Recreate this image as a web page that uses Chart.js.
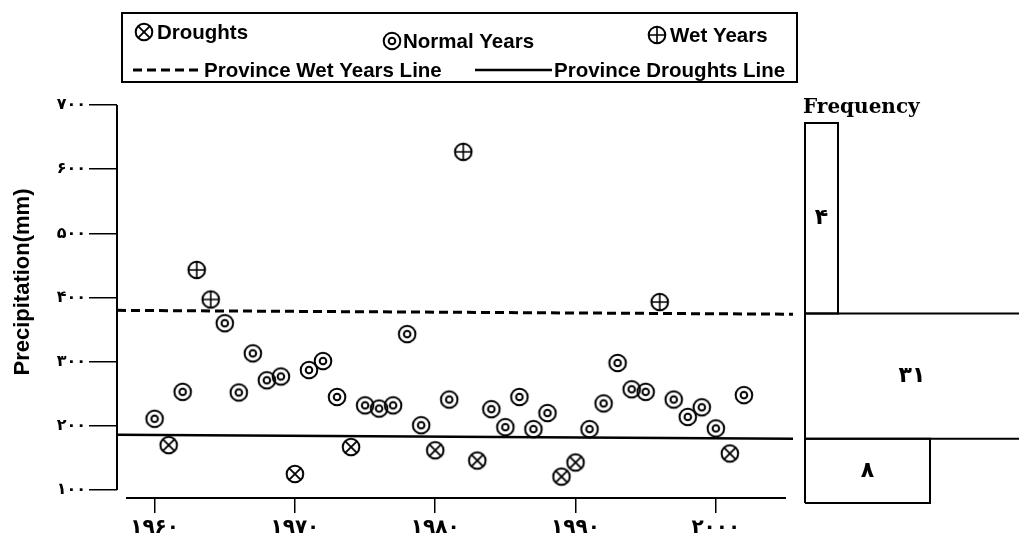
<!DOCTYPE html>
<html>
<head>
<meta charset="utf-8">
<script src="https://cdn.jsdelivr.net/npm/chart.js@4.4.1/dist/chart.umd.min.js"></script>
<style>
  html, body { margin: 0; padding: 0; background: #fff; }
  #wrap { position: relative; width: 1019px; height: 542px; overflow: hidden; }
  #main { position: absolute; left: 0; top: 0; }
  #freq { position: absolute; left: 790px; top: 0; }
</style>
</head>
<body>
<div id="wrap">
  <canvas id="main" width="805" height="542"></canvas>
  <canvas id="freq" width="229" height="542"></canvas>
</div>
<script>
"use strict";

// annual precipitation (mm), 1960-2002
const years = [
  1960, 1961, 1962, 1963, 1964, 1965, 1966, 1967, 1968, 1969,
  1970, 1971, 1972, 1973, 1974, 1975, 1976, 1977, 1978, 1979,
  1980, 1981, 1982, 1983, 1984, 1985, 1986, 1987, 1988, 1989,
  1990, 1991, 1992, 1993, 1994, 1995, 1996, 1997, 1998, 1999,
  2000, 2001, 2002
];
const precipitation = [
  211, 170, 253, 443, 397, 360, 252, 313, 271, 277,
  125, 287, 301, 245, 167, 232, 227, 232, 343, 201,
  162, 241, 627, 146, 226, 198, 245, 195, 220, 121,
  143, 195, 235, 298, 257, 253, 393, 241, 214, 229,
  196, 157, 248
];

// province threshold lines (value at left end, value at right end)
const wetLineEnds = [380, 374];
const droughtLineEnds = [186, 180];
const wetThreshold = 377;
const droughtThreshold = 183;

// frequency panel: class bounds (mm) and counts
const classBounds = [80, 180, 375, 672];
const classCounts = [8, 31, 4];
const classCountLabels = ["۸", "۳۱", "۴"];

const xTickValues = [1960, 1970, 1980, 1990, 2000];
const xTickLabels = ["۱۹۶۰", "۱۹۷۰", "۱۹۸۰", "۱۹۹۰", "۲۰۰۰"];
const yTickValues = [100, 200, 300, 400, 500, 600, 700];
const yTickLabels = ["۱۰۰", "۲۰۰", "۳۰۰", "۴۰۰", "۵۰۰", "۶۰۰", "۷۰۰"];

const X_MIN = 1957.32, X_MAX = 2005.5;
const Y_MIN = 87.6, Y_MAX = 700;
const FX_MIN = 2.565, FX_MAX = 11.87;

function marker(kind) {
  const c = document.createElement("canvas");
  c.width = c.height = 22;
  const g = c.getContext("2d");
  g.strokeStyle = "#000";
  g.lineWidth = 2;
  g.beginPath();
  g.arc(11, 11, 8.3, 0, Math.PI * 2);
  g.stroke();
  if (kind === "normal") {
    g.beginPath();
    g.arc(11, 11, 3.3, 0, Math.PI * 2);
    g.stroke();
  } else if (kind === "wet") {
    g.lineWidth = 1.6;
    g.beginPath();
    g.moveTo(3, 11); g.lineTo(19, 11);
    g.moveTo(11, 3); g.lineTo(11, 19);
    g.stroke();
  } else {
    const d = 8.3 * Math.SQRT1_2;
    g.lineWidth = 1.8;
    g.beginPath();
    g.moveTo(11 - d, 11 - d); g.lineTo(11 + d, 11 + d);
    g.moveTo(11 + d, 11 - d); g.lineTo(11 - d, 11 + d);
    g.stroke();
  }
  return c;
}
const markers = { drought: marker("drought"), normal: marker("normal"), wet: marker("wet") };

function pointsOf(test) {
  const out = [];
  years.forEach((yr, i) => {
    if (test(precipitation[i])) out.push({ x: yr, y: precipitation[i] });
  });
  return out;
}

const LEGEND_FONT = 'bold 20.5px "Liberation Sans", Arial, sans-serif';

const axisLines = {
  id: "axisLines",
  afterDatasetsDraw(chart) {
    const { ctx, chartArea: a, scales: { y } } = chart;
    ctx.save();
    ctx.strokeStyle = "#000";
    ctx.lineWidth = 2;
    ctx.beginPath();
    ctx.moveTo(a.left, y.getPixelForValue(yTickValues[yTickValues.length - 1]));
    ctx.lineTo(a.left, y.getPixelForValue(yTickValues[0]));
    ctx.moveTo(a.left + 9, a.bottom);
    ctx.lineTo(a.right - 7, a.bottom);
    ctx.stroke();

    // y title
    ctx.translate(23, 282);
    ctx.rotate(-Math.PI / 2);
    ctx.fillStyle = "#000";
    ctx.font = 'bold 22px "Liberation Sans", Arial, sans-serif';
    ctx.textAlign = "center";
    ctx.textBaseline = "middle";
    ctx.fillText("Precipitation(mm)", 0, 0);
    ctx.restore();
  }
};

const legendBox = {
  id: "legendBox",
  afterDraw(chart) {
    const ctx = chart.ctx;
    const ds = chart.data.datasets;
    ctx.save();
    ctx.strokeStyle = "#000";
    ctx.lineWidth = 2;
    ctx.strokeRect(122, 13, 675, 69);
    ctx.fillStyle = "#000";
    ctx.font = LEGEND_FONT;
    ctx.textBaseline = "middle";
    ctx.textAlign = "left";

    const sym = [
      { i: 0, x: 144, y: 32, tx: 157 },
      { i: 1, x: 392, y: 41, tx: 403 },
      { i: 2, x: 657, y: 35, tx: 670 }
    ];
    sym.forEach(s => {
      ctx.drawImage(ds[s.i].pointStyle, s.x - 11, s.y - 11);
      ctx.fillText(ds[s.i].label, s.tx, s.y + 1);
    });

    const lines = [
      { i: 3, x0: 133, x1: 200, y: 70, tx: 204 },
      { i: 4, x0: 475, x1: 552, y: 70, tx: 554 }
    ];
    lines.forEach(l => {
      ctx.save();
      ctx.lineWidth = ds[l.i].borderWidth;
      ctx.setLineDash(ds[l.i].borderDash || []);
      ctx.beginPath();
      ctx.moveTo(l.x0, l.y);
      ctx.lineTo(l.x1, l.y);
      ctx.stroke();
      ctx.restore();
      ctx.fillText(ds[l.i].label, l.tx, l.y + 1);
    });
    ctx.restore();
  }
};

new Chart(document.getElementById("main"), {
  type: "scatter",
  data: {
    datasets: [
      {
        label: "Droughts",
        data: pointsOf(v => v < droughtThreshold),
        pointStyle: markers.drought,
        pointRadius: 11
      },
      {
        label: "Normal Years",
        data: pointsOf(v => v >= droughtThreshold && v <= wetThreshold),
        pointStyle: markers.normal,
        pointRadius: 11
      },
      {
        label: "Wet Years",
        data: pointsOf(v => v > wetThreshold),
        pointStyle: markers.wet,
        pointRadius: 11
      },
      {
        label: "Province Wet Years Line",
        type: "line",
        data: [{ x: X_MIN, y: wetLineEnds[0] }, { x: X_MAX, y: wetLineEnds[1] }],
        borderColor: "#000",
        borderWidth: 3,
        borderDash: [9, 5],
        pointRadius: 0
      },
      {
        label: "Province Droughts Line",
        type: "line",
        data: [{ x: X_MIN, y: droughtLineEnds[0] }, { x: X_MAX, y: droughtLineEnds[1] }],
        borderColor: "#000",
        borderWidth: 2.5,
        pointRadius: 0
      }
    ]
  },
  options: {
    responsive: false,
    animation: false,
    layout: { padding: { left: 0, top: 105, right: 5, bottom: 0 } },
    plugins: { legend: { display: false }, tooltip: { enabled: false } },
    scales: {
      x: {
        type: "linear",
        min: X_MIN,
        max: X_MAX,
        afterBuildTicks: s => { s.ticks = xTickValues.map(v => ({ value: v })); },
        afterFit: s => { s.height = 44; },
        border: { display: false },
        grid: { drawOnChartArea: false, tickLength: 15, color: "#000", lineWidth: 1.5 },
        ticks: {
          callback: (v, i) => xTickLabels[i],
          color: "#000",
          autoSkip: false,
          maxRotation: 0,
          padding: 3,
          font: { family: '"DejaVu Sans", sans-serif', size: 20, weight: "bold" }
        }
      },
      y: {
        min: Y_MIN,
        max: Y_MAX,
        afterBuildTicks: s => { s.ticks = yTickValues.map(v => ({ value: v })); },
        afterFit: s => { s.width = 117; },
        border: { display: false },
        grid: { drawOnChartArea: false, tickLength: 28, color: "#000", lineWidth: 1.5 },
        ticks: {
          callback: (v, i) => yTickLabels[i],
          color: "#000",
          padding: 3,
          font: { family: '"DejaVu Sans", sans-serif', size: 16, weight: "bold" }
        }
      }
    }
  },
  plugins: [axisLines, legendBox]
});

// frequency panel
function rect(lo, hi, n) {
  return [
    { x: FX_MIN, y: lo }, { x: n, y: lo }, { x: n, y: hi },
    { x: FX_MIN, y: hi }, { x: FX_MIN, y: lo }
  ];
}

const freqLabels = {
  id: "freqLabels",
  afterDraw(chart) {
    const { ctx, chartArea: a, scales: { x, y } } = chart;
    ctx.save();
    ctx.fillStyle = "#000";
    ctx.textBaseline = "middle";
    ctx.textAlign = "left";
    ctx.font = 'bold 20px "DejaVu Serif", serif';
    ctx.fillText("Frequency", 13, 108);
    ctx.textAlign = "center";
    ctx.font = 'bold 22px "DejaVu Sans", sans-serif';
    classCounts.forEach((n, i) => {
      const x0 = x.getPixelForValue(FX_MIN);
      const x1 = Math.min(x.getPixelForValue(n), a.right);
      const y0 = y.getPixelForValue(classBounds[i]);
      const y1 = y.getPixelForValue(classBounds[i + 1]);
      ctx.fillText(classCountLabels[i], (x0 + x1) / 2, (y0 + y1) / 2);
    });
    ctx.restore();
  }
};

new Chart(document.getElementById("freq"), {
  type: "scatter",
  data: {
    datasets: classCounts.map((n, i) => ({
      label: classCountLabels[i],
      data: rect(classBounds[i], classBounds[i + 1], n),
      showLine: true,
      borderColor: "#000",
      borderWidth: 2,
      pointRadius: 0,
      clip: false
    }))
  },
  options: {
    responsive: false,
    animation: false,
    layout: { padding: { left: 15, top: 105, right: 0, bottom: 44 } },
    plugins: { legend: { display: false }, tooltip: { enabled: false } },
    scales: {
      x: { type: "linear", min: FX_MIN, max: FX_MAX, display: false },
      y: { min: Y_MIN, max: Y_MAX, display: false }
    }
  },
  plugins: [freqLabels]
});
</script>
</body>
</html>
